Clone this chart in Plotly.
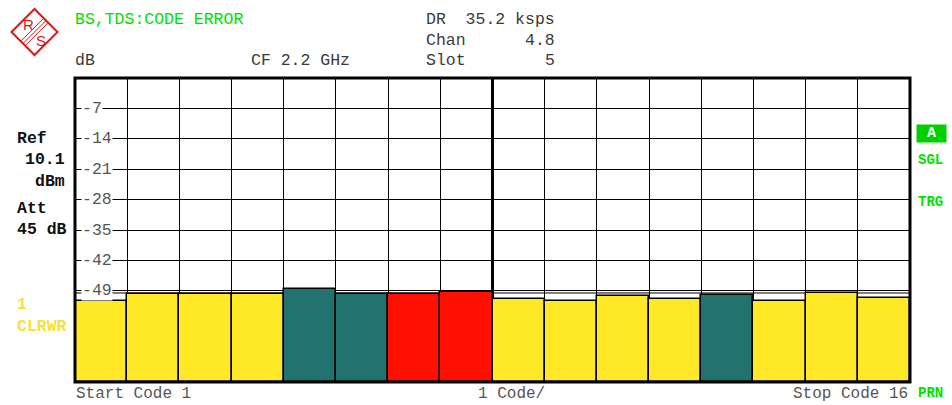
import plotly.graph_objects as go

# ---------------- data ----------------
codes = list(range(1, 17))
code_power_db = [-51.45, -49.75, -49.75, -49.75, -48.55, -49.75, -49.75, -49.3,
                 -51.0, -51.45, -50.15, -51.0, -50.05, -51.45, -49.4, -50.55]
bar_colors = ["#ffe825", "#ffe825", "#ffe825", "#ffe825", "#227270", "#227270", "#ff1000", "#ff1000",
              "#ffe825", "#ffe825", "#ffe825", "#ffe825", "#227270", "#ffe825", "#ffe825", "#ffe825"]
y_tick_vals = [-7, -14, -21, -28, -35, -42, -49]
y_tick_labels = ["-7", "-14", "-21", "-28", "-35", "-42", "-49"]
y_floor = -70
y_top = 0
limit_line_db = -49.5

# ---------------- layout constants ----------------
W, H = 952, 405
L, R, T, B = 75, 42, 78, 23
PW, PH = W - L - R, H - T - B


def px(x):
    return (x - L) / PW


def py(y):
    return (H - B - y) / PH


MONO = "Liberation Mono, Courier New, monospace"
GREEN = "#00e000"
YELLOW = "#f2e33a"
DARK = "#3a3a3a"
GREY = "#555555"

heights = [v - y_floor for v in code_power_db]

fig = go.Figure()
fig.add_trace(go.Bar(
    x=codes, y=heights, base=[y_floor] * len(codes),
    width=1.0,
    marker=dict(color=bar_colors, line=dict(color="black", width=1.5)),
    hoverinfo="skip",
))

fig.update_layout(
    width=W, height=H,
    margin=dict(l=L, r=R, t=T, b=B, pad=0),
    paper_bgcolor="white", plot_bgcolor="white",
    showlegend=False,
    bargap=0,
    xaxis=dict(range=[0.5, 16.5], tickvals=[c + 0.5 for c in codes[:-1]],
               showticklabels=False, ticks="", showgrid=True, gridcolor="black",
               gridwidth=1, zeroline=False, showline=False, fixedrange=True),
    yaxis=dict(range=[y_floor, y_top], tickvals=list(range(-63, 0, 7)),
               showticklabels=False, ticks="", showgrid=True, gridcolor="black",
               gridwidth=1, zeroline=False, showline=False, fixedrange=True),
)

shapes = []
# center thick line
shapes.append(dict(type="line", xref="x", yref="paper", x0=8.5, x1=8.5, y0=0, y1=1,
                   line=dict(color="black", width=3), layer="below"))
# limit line just below -49
shapes.append(dict(type="line", xref="paper", yref="y", x0=0, x1=1, y0=limit_line_db, y1=limit_line_db,
                   line=dict(color="black", width=1), layer="below"))
# frame
shapes.append(dict(type="rect", xref="paper", yref="paper", x0=0, x1=1, y0=0, y1=1,
                   line=dict(color="black", width=3), layer="above"))

# R&S logo
cx, cy, hd = 34.5, 32, 23
LOGO = "#d81818"
shapes.append(dict(type="path", xref="paper", yref="paper",
                   path=f"M {px(cx-hd)} {py(cy)} L {px(cx)} {py(cy-hd)} L {px(cx+hd)} {py(cy)} L {px(cx)} {py(cy+hd)} Z",
                   line=dict(color=LOGO, width=2), fillcolor="rgba(0,0,0,0)"))
for off in (-2.2, 0, 2.2):
    shapes.append(dict(type="line", xref="paper", yref="paper",
                       x0=px(cx - 11 + off), y0=py(cy + 11 + off), x1=px(cx + 11 + off), y1=py(cy - 11 + off),
                       line=dict(color=LOGO, width=1)))
fig.update_layout(shapes=shapes)

ann = []


def text(x, y, s, color=DARK, size=16.5, anchor="left", bold=False, family=MONO, **kw):
    ann.append(dict(xref="paper", yref="paper", x=px(x), y=py(y), text=f"<b>{s}</b>" if bold else s,
                    showarrow=False, xanchor=anchor, yanchor="middle",
                    font=dict(family=family, size=size, color=color), **kw))


# logo letters
text(28, 24, "R", color=LOGO, size=15, anchor="center", family="Liberation Sans, Arial")
text(41, 40, "S", color=LOGO, size=15, anchor="center", family="Liberation Sans, Arial")

# header
text(73, 19, "BS,TDS:CODE ERROR", color=GREEN)
text(424, 19, "DR  35.2 ksps")
text(424, 40, "Chan")
text(557, 40, "4.8", anchor="right")
text(73, 61, "dB")
text(249, 61, "CF 2.2 GHz")
text(424, 61, "Slot")
text(557, 61, "5", anchor="right")

# left panel
text(15, 138, "Ref", color="#111111", bold=True)
text(67, 159, "10.1", color="#111111", bold=True, anchor="right")
text(67, 181, "dBm", color="#111111", bold=True, anchor="right")
text(15, 208, "Att", color="#111111", bold=True)
text(15, 229, "45 dB", color="#111111", bold=True)
text(15, 304, "1", color=YELLOW, bold=True)
text(15, 326, "CLRWR", color=YELLOW, bold=True)

# right panel
ann.append(dict(xref="paper", yref="paper", x=px(931.5), y=py(133.5), text="<b>A</b>", showarrow=False,
                xanchor="center", yanchor="middle", width=27, height=15, bgcolor="#00d000",
                font=dict(family=MONO, size=15, color="white")))
text(916, 160, "SGL", color=GREEN, size=14, bold=True)
text(916, 202, "TRG", color=GREEN, size=14, bold=True)
text(916, 393, "PRN", color=GREEN, size=14, bold=True)

# bottom
text(74, 394, "Start Code 1", color=GREY, size=16)
text(476, 394, "1 Code/", color=GREY, size=16)
text(910, 394, "Stop Code 16", color=GREY, size=16, anchor="right")

# y tick labels inside plot
for v, lab in zip(y_tick_vals, y_tick_labels):
    ann.append(dict(xref="paper", yref="y", x=px(81), y=v, text=lab, showarrow=False,
                    xanchor="left", yanchor="middle", bgcolor="white", borderpad=0,
                    font=dict(family=MONO, size=16.5, color=GREY)))

fig.update_layout(annotations=ann)
fig.write_html("out.html", config={"displayModeBar": False},
               post_script="document.body.style.margin='0';document.body.style.overflow='hidden';")
